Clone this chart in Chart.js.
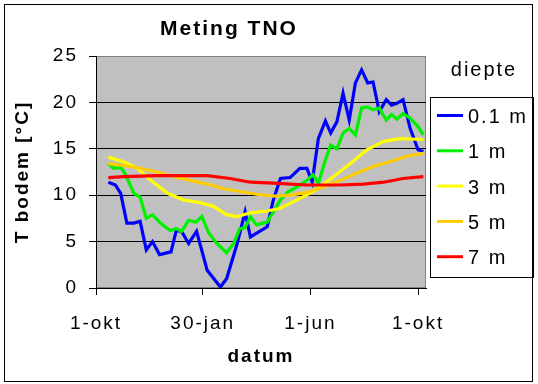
<!DOCTYPE html>
<html><head><meta charset="utf-8">
<script src="https://cdn.jsdelivr.net/npm/chart.js@4.4.0/dist/chart.umd.min.js"></script>
<style>html,body{margin:0;padding:0;background:#fff;}</style>
</head><body>
<canvas id="c" width="538" height="384"></canvas>
<script>
const chartTitle = 'Meting TNO';
const xTitle = 'datum';
const yTitle = 'T bodem [°C]';
const legendTitle = 'diepte';
const tickDays = [0, 121, 243, 365];
const tickLabels = ['1-okt', '30-jan', '1-jun', '1-okt'];
const seriesNames = ['0.1 m', '1 m', '3 m', '5 m', '7 m'];
const seriesColors = ['#0000FF', '#00F000', '#FFFF00', '#FFCC00', '#FF0000'];

const days01 = [14,22,28,35,43,50,57,64,72,85,91,97,105,114,126,141,148,160,169,175,194,201,209,220,231,239,245,252,260,266,273,280,287,294,301,308,314,321,329,335,341,348,356,365,371];
const temp01 = [11.4,11.1,10.2,7.0,7.0,7.2,4.1,5.0,3.6,3.9,6.2,6.1,4.8,6.1,1.9,0.1,1.0,4.8,8.2,5.5,6.6,9.5,11.8,11.9,12.9,12.9,11.4,16.1,18.0,16.7,17.9,21.0,18.1,22.1,23.5,22.1,22.2,19.0,20.3,19.7,19.9,20.3,17.2,14.9,14.7];

const days1 = [14,20,28,33,43,50,57,64,73,84,91,97,105,113,120,128,137,148,156,163,169,175,182,194,201,209,218,228,239,246,252,260,266,273,280,287,294,301,308,314,321,329,335,341,348,356,365,371];
const temp1 = [13.4,12.9,13.0,12.3,10.2,9.8,7.5,7.9,7.0,6.2,6.4,6.1,7.3,7.1,7.7,5.9,4.8,3.8,4.8,6.4,6.5,7.7,6.8,7.1,8.2,9.5,10.4,10.9,11.6,12.2,11.3,13.8,15.4,15.0,16.7,17.2,16.5,19.4,19.5,19.2,19.4,18.1,18.7,18.2,18.8,18.3,17.4,16.5];

const days3 = [14,31,47,62,81,99,118,133,148,160,175,194,209,228,250,269,288,307,326,345,371];
const temp3 = [14.1,13.6,12.9,11.6,10.2,9.5,9.2,8.8,7.9,7.7,8.1,8.3,8.6,9.5,10.6,12.0,13.4,14.9,15.8,16.1,16.0];

const days5 = [14,31,50,69,88,107,126,145,163,182,201,220,239,258,277,296,314,333,352,371];
const temp5 = [13.4,13.2,12.9,12.5,12.0,11.6,11.2,10.7,10.4,10.1,9.9,10.0,10.3,10.9,11.6,12.4,13.1,13.6,14.2,14.5];

const days7 = [14,31,69,126,152,175,201,239,277,303,326,348,371];
const temp7 = [11.9,12.0,12.1,12.1,11.8,11.4,11.3,11.1,11.1,11.2,11.4,11.8,12.0];

const allDays = [days01, days1, days3, days5, days7];
const allTemps = [temp01, temp1, temp3, temp5, temp7];

const FONT = "'Liberation Sans', Arial, sans-serif";
const SPACING = '2px';

function pts(d, t) { return d.map((x, i) => ({x: x, y: t[i]})); }

const datasets = seriesNames.map((name, i) => ({
  label: name,
  data: pts(allDays[i], allTemps[i]),
  borderColor: seriesColors[i],
  backgroundColor: seriesColors[i],
  borderWidth: 3.2,
  pointRadius: 0,
  tension: 0,
  fill: false,
  order: seriesNames.length - i
}));

const decor = {
  id: 'decor',
  beforeLayout(chart) { chart.ctx.letterSpacing = SPACING; },
  beforeDraw(chart) {
    const ctx = chart.ctx, a = chart.chartArea;
    ctx.save();
    ctx.fillStyle = '#fff';
    ctx.fillRect(0, 0, chart.width, chart.height);
    ctx.fillStyle = '#C0C0C0';
    ctx.fillRect(a.left, a.top, a.right - a.left, a.bottom - a.top);
    ctx.strokeStyle = '#808080';
    ctx.lineWidth = 1;
    ctx.strokeRect(a.left + 0.5, a.top + 0.5, a.right - a.left - 1, a.bottom - a.top - 1);
    ctx.restore();
    ctx.letterSpacing = SPACING;
  },
  afterDraw(chart) {
    const ctx = chart.ctx;
    ctx.save();
    ctx.letterSpacing = SPACING;
    ctx.strokeStyle = '#000';
    ctx.lineWidth = 1;
    ctx.strokeRect(4.5, 4.5, 528, 377);
    ctx.fillStyle = '#000';
    ctx.textAlign = 'center';
    ctx.textBaseline = 'alphabetic';
    ctx.font = 'bold 21px ' + FONT;
    ctx.fillText(chartTitle, 229, 35);
    ctx.font = '20px ' + FONT;
    ctx.fillText(legendTitle, 484, 76);
    ctx.strokeRect(430.5, 97.5, 103, 180);
    ctx.textAlign = 'left';
    seriesNames.forEach((name, i) => {
      const y = 115.5 + i * 35.3;
      ctx.strokeStyle = seriesColors[i];
      ctx.lineWidth = 3;
      ctx.beginPath();
      ctx.moveTo(437, y);
      ctx.lineTo(463, y);
      ctx.stroke();
      ctx.fillStyle = '#000';
      ctx.fillText(name, 468, y + 7.5);
    });
    ctx.restore();
  }
};

new Chart(document.getElementById('c'), {
  type: 'line',
  data: { datasets: datasets },
  options: {
    responsive: false,
    animation: false,
    devicePixelRatio: 1,
    layout: { padding: { left: 0, top: 56, right: 112, bottom: 0 } },
    plugins: { legend: { display: false }, title: { display: false }, tooltip: { enabled: false } },
    scales: {
      x: {
        type: 'linear',
        min: 0,
        max: 374,
        afterFit(s) { s.height = 96; },
        afterBuildTicks(s) { s.ticks = tickDays.map(v => ({ value: v })); },
        ticks: {
          color: '#000',
          font: { family: FONT, size: 19 },
          padding: 17,
          maxRotation: 0,
          autoSkip: false,
          callback(v) { const k = tickDays.indexOf(v); return k >= 0 ? tickLabels[k] : ''; }
        },
        grid: { drawOnChartArea: false, tickLength: 7, tickColor: '#000', color: '#000' },
        border: { display: true, color: '#000', width: 1 },
        title: { display: true, text: xTitle, color: '#000', font: { family: FONT, size: 19, weight: 'bold' }, padding: { top: 0, bottom: 16 } }
      },
      y: {
        min: 0,
        max: 25,
        afterFit(s) { s.width = 96; },
        ticks: { stepSize: 5, color: '#000', font: { family: FONT, size: 19 }, padding: 11 },
        grid: {
          tickLength: 7,
          tickColor: '#000',
          color(c) { return (c.tick && c.tick.value > 0 && c.tick.value < 25) ? '#000' : 'rgba(0,0,0,0)'; },
          lineWidth: 1
        },
        border: { display: true, color: '#000', width: 1 },
        title: { display: true, text: yTitle, color: '#000', font: { family: FONT, size: 19, weight: 'bold' }, padding: { top: 11, bottom: 0 } }
      }
    }
  },
  plugins: [decor]
});
</script>
</body></html>
